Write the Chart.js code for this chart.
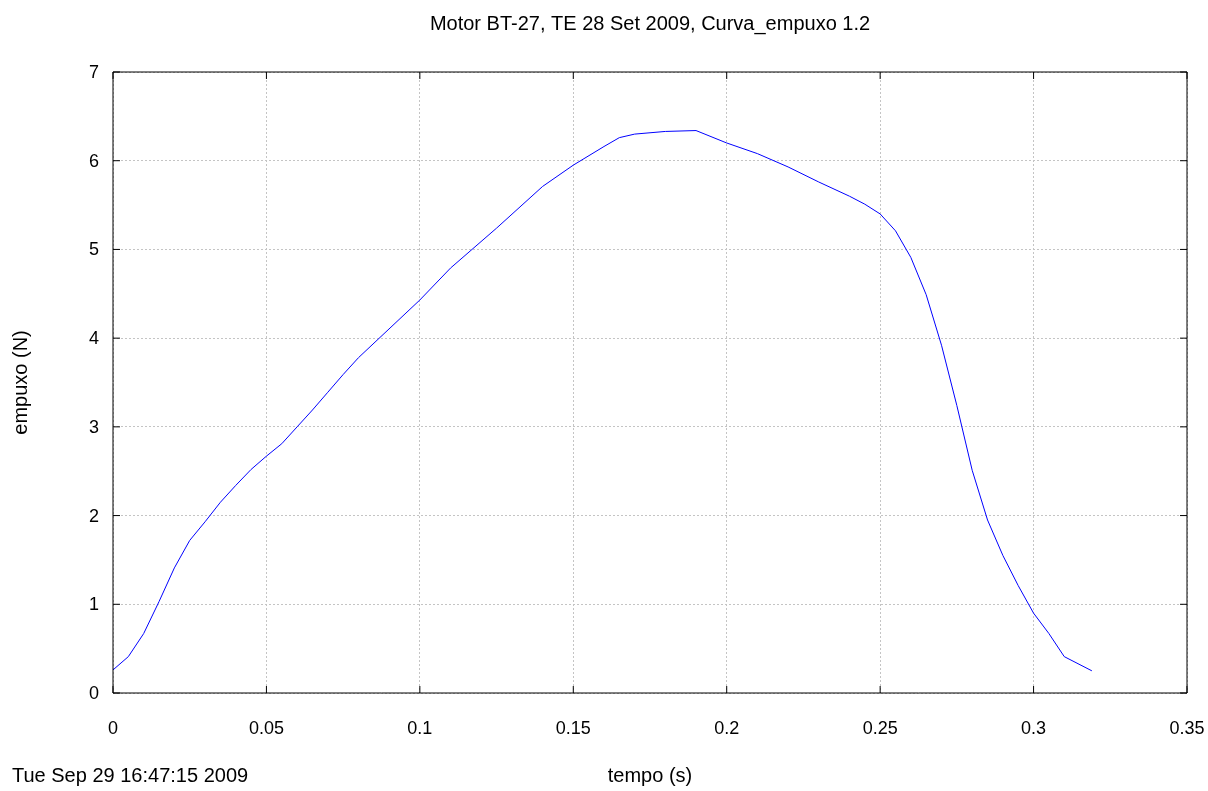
<!DOCTYPE html>
<html>
<head>
<meta charset="utf-8">
<title>Curva de empuxo</title>
<script src="https://cdn.jsdelivr.net/npm/chart.js@4.4.1/dist/chart.umd.min.js"></script>
<style>
  html, body { margin: 0; padding: 0; background: #fff; }
  #wrap { position: relative; width: 1208px; height: 791px; }
</style>
</head>
<body>
<div id="wrap"><canvas id="c"></canvas></div>
<script>
// Thrust curve of the BT-27 motor, static test of 28 Sep 2009.
const TITLE = 'Motor BT-27, TE 28 Set 2009, Curva_empuxo 1.2';
const STAMP = 'Tue Sep 29 16:47:15 2009';
const X_LABEL = 'tempo (s)';
const Y_LABEL = 'empuxo (N)';

// tempo (s)
const tempo = [0, 0.005, 0.01, 0.015, 0.02, 0.025, 0.03, 0.035, 0.04, 0.045,
  0.05, 0.055, 0.06, 0.065, 0.07, 0.075, 0.08, 0.1, 0.11, 0.125,
  0.14, 0.15, 0.16, 0.165, 0.17, 0.18, 0.19, 0.2, 0.21, 0.22,
  0.23, 0.24, 0.245, 0.25, 0.255, 0.26, 0.265, 0.27, 0.275, 0.28,
  0.285, 0.29, 0.295, 0.3, 0.305, 0.31, 0.319];
// empuxo (N)
const empuxo = [0.26, 0.41, 0.67, 1.03, 1.41, 1.72, 1.93, 2.15, 2.34, 2.52,
  2.67, 2.81, 3.00, 3.19, 3.39, 3.59, 3.78, 4.43, 4.79, 5.24,
  5.71, 5.95, 6.16, 6.26, 6.30, 6.33, 6.34, 6.20, 6.08, 5.93,
  5.76, 5.60, 5.51, 5.40, 5.21, 4.91, 4.49, 3.92, 3.24, 2.51,
  1.95, 1.55, 1.21, 0.90, 0.67, 0.41, 0.25];

const xTicks = ['0', '0.05', '0.1', '0.15', '0.2', '0.25', '0.3', '0.35'];
const yTicks = ['0', '1', '2', '3', '4', '5', '6', '7'];

const FONT = '"Liberation Sans", Arial, sans-serif';
const TICK_LEN = 7;

// Frame, inward tick marks, tick labels and the free texts around the axes.
const decor = {
  id: 'decor',
  afterDraw(chart) {
    const { ctx, chartArea: a, scales: { x, y } } = chart;
    ctx.save();
    ctx.strokeStyle = '#000';
    ctx.lineWidth = 1;
    ctx.beginPath();
    ctx.rect(a.left, a.top, a.right - a.left, a.bottom - a.top);
    xTicks.forEach(function (s) {
      const px = x.getPixelForValue(parseFloat(s));
      ctx.moveTo(px, a.bottom); ctx.lineTo(px, a.bottom - TICK_LEN);
      ctx.moveTo(px, a.top); ctx.lineTo(px, a.top + TICK_LEN);
    });
    yTicks.forEach(function (s) {
      const py = y.getPixelForValue(parseFloat(s));
      ctx.moveTo(a.left, py); ctx.lineTo(a.left + TICK_LEN, py);
      ctx.moveTo(a.right, py); ctx.lineTo(a.right - TICK_LEN, py);
    });
    ctx.stroke();

    ctx.fillStyle = '#000';
    ctx.font = '18px ' + FONT;
    ctx.textAlign = 'center';
    ctx.textBaseline = 'middle';
    xTicks.forEach(function (s) {
      ctx.fillText(s, x.getPixelForValue(parseFloat(s)), a.bottom + 36);
    });
    ctx.textAlign = 'right';
    yTicks.forEach(function (s) {
      ctx.fillText(s, a.left - 14, y.getPixelForValue(parseFloat(s)) + 1);
    });

    ctx.font = '20px ' + FONT;
    ctx.textAlign = 'center';
    ctx.fillText(TITLE, (a.left + a.right) / 2, 24);
    ctx.fillText(X_LABEL, (a.left + a.right) / 2, 776);
    ctx.textAlign = 'left';
    ctx.fillText(STAMP, 12, 776);

    ctx.translate(21, (a.top + a.bottom) / 2);
    ctx.rotate(-Math.PI / 2);
    ctx.textAlign = 'center';
    ctx.fillText(Y_LABEL, 0, 0);
    ctx.restore();
  }
};

new Chart(document.getElementById('c'), {
  type: 'line',
  data: {
    datasets: [{
      data: tempo.map(function (t, i) { return { x: t, y: empuxo[i] }; }),
      borderColor: '#0000ff',
      borderWidth: 1,
      pointRadius: 0,
      tension: 0,
      fill: false
    }]
  },
  options: {
    responsive: true,
    maintainAspectRatio: false,
    animation: false,
    layout: { padding: { left: 113, right: 21, top: 72, bottom: 98 } },
    plugins: { legend: { display: false }, tooltip: { enabled: false }, title: { display: false } },
    scales: {
      x: {
        type: 'linear', min: 0, max: 0.35,
        ticks: { display: false, stepSize: 0.05 },
        grid: { color: '#c4c4c4', lineWidth: 1, drawTicks: false, tickLength: 0 },
        border: { display: false, dash: [2, 2] }
      },
      y: {
        type: 'linear', min: 0, max: 7,
        ticks: { display: false, stepSize: 1 },
        grid: { color: '#c4c4c4', lineWidth: 1, drawTicks: false, tickLength: 0 },
        border: { display: false, dash: [2, 2] }
      }
    }
  },
  plugins: [decor]
});
</script>
</body>
</html>
